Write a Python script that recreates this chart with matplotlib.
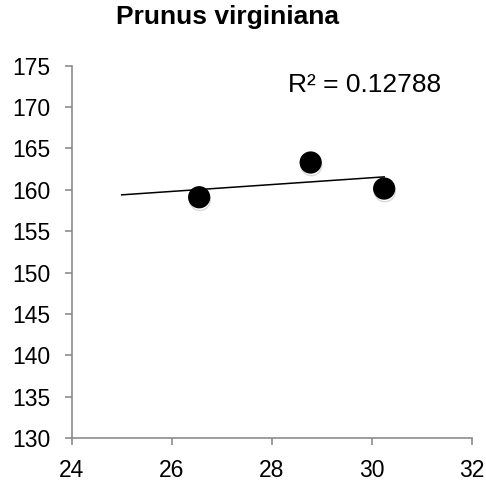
import numpy as np
import matplotlib.pyplot as plt
import matplotlib.patheffects as pe

plt.rcParams['font.family'] = ['Liberation Sans', 'DejaVu Sans']

# leaf length vs. temperature
temp = [26.55, 28.78, 30.25]
length = [159.1, 163.3, 160.15]
r2_label = 'R² = 0.12788'
x_ticks = [24, 26, 28, 30, 32]
y_ticks = [130, 135, 140, 145, 150, 155, 160, 165, 170, 175]

fig = plt.figure(figsize=(4.86, 4.86), dpi=100)
ax = fig.add_axes([0.1475, 0.0988, 0.823, 0.766])

# linear trendline, extended back to x=25
slope, icpt = np.polyfit(temp, length, 1)
xl = np.array([25, max(temp)])
ax.plot(xl, slope * xl + icpt, color='black', linewidth=1.1, zorder=2)

ax.plot(temp, length, 'o', color='black', markersize=15, zorder=3,
        path_effects=[pe.SimpleLineShadow(offset=(0.5, -2), shadow_color='gray', alpha=0.3),
                      pe.Normal()])

ax.set_xlim(24, 32)
ax.set_ylim(130, 175)
ax.set_xticks(x_ticks)
ax.set_yticks(y_ticks)
for s in ['top', 'right']:
    ax.spines[s].set_visible(False)
for s in ['left', 'bottom']:
    ax.spines[s].set_color('#8c8c8c')
    ax.spines[s].set_linewidth(1.2)
ax.tick_params(colors='#8c8c8c', length=5, width=1.2, labelcolor='black', labelsize=16.5)
ax.tick_params(axis='y', pad=10.5)
ax.tick_params(axis='x', pad=10)

fig.text(227 / 486, 1 - 17 / 486, 'Prunus virginiana', ha='center', va='center',
         fontsize=19, fontweight='bold')
fig.text(288 / 486, 1 - 92 / 486, r2_label, ha='left', va='baseline', fontsize=19)

fig.savefig('out.png', dpi=100)
